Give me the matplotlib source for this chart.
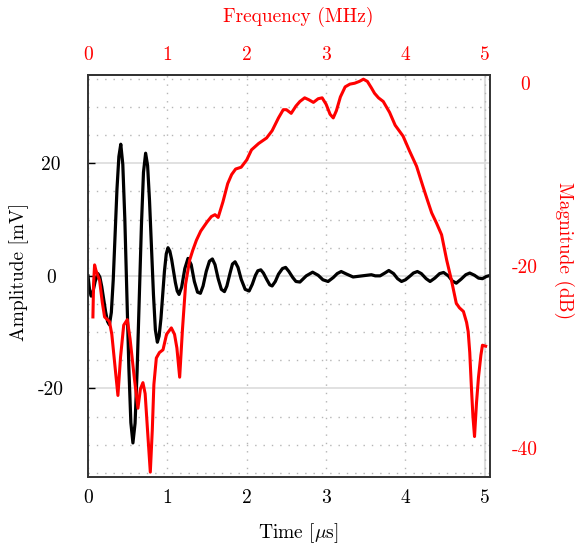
import matplotlib
matplotlib.use("Agg")
import matplotlib.pyplot as plt
from matplotlib.ticker import MultipleLocator

plt.rcParams["font.family"] = ["cmr10", "DejaVu Serif"]
plt.rcParams["mathtext.fontset"] = "cm"
plt.rcParams["axes.formatter.use_mathtext"] = True

# time signal (us, mV)
time_us = [0.00, 0.02, 0.04, 0.06, 0.09, 0.125, 0.149, 0.173, 0.198, 0.222,
           0.246, 0.27, 0.294, 0.318, 0.342, 0.365, 0.389, 0.413, 0.4385, 0.464,
           0.4895, 0.515, 0.540, 0.566, 0.593, 0.619, 0.646, 0.673, 0.699, 0.726,
           0.751, 0.775, 0.80, 0.825, 0.849, 0.874, 0.896, 0.919, 0.941, 0.963,
           0.986, 1.008, 1.031, 1.054, 1.078, 1.101, 1.124, 1.147, 1.18, 1.22,
           1.26, 1.30, 1.34, 1.38, 1.416, 1.45, 1.49, 1.53, 1.567, 1.60,
           1.64, 1.68, 1.719, 1.75, 1.79, 1.82, 1.853, 1.89, 1.93, 1.98,
           2.03, 2.07, 2.11, 2.14, 2.177, 2.21, 2.25, 2.29, 2.32, 2.36,
           2.40, 2.45, 2.49, 2.53, 2.58, 2.62, 2.67, 2.75, 2.83, 2.90,
           2.96, 3.025, 3.09, 3.14, 3.19, 3.26, 3.34, 3.40, 3.47, 3.52,
           3.57, 3.62, 3.68, 3.74, 3.79, 3.85, 3.90, 3.95, 4.00, 4.06,
           4.10, 4.15, 4.20, 4.26, 4.31, 4.37, 4.43, 4.48, 4.54, 4.59,
           4.64, 4.70, 4.76, 4.81, 4.87, 4.92, 4.97, 5.02, 5.06]
amplitude_mv = [0.0, -2.5, -3.6, -3.0, -1.0, 0.4, -0.2, -1.9, -4.15, -6.4,
                -8.1, -8.7, -6.5, -0.7, 7.35, 15.4, 21.2, 23.4, 19.8, 10.1,
                -3.2, -16.4, -26.1, -29.7, -26.2, -16.8, -3.95, 8.9, 18.4, 21.8,
                19.6, 13.4, 5.0, -3.4, -9.6, -11.8, -10.7, -7.6, -3.4, 0.8,
                3.9, 5.0, 4.4, 2.9, 0.85, -1.2, -2.7, -3.3, -2.0, 1.3,
                3.1, 2.0, -1.0, -2.9, -3.1, -1.8, 0.8, 2.6, 3.0, 2.0,
                -0.5, -2.4, -2.8, -1.8, 0.5, 2.1, 2.5, 1.5, -0.6, -2.4,
                -2.7, -1.5, 0.1, 0.9, 1.07, 0.5, -0.6, -1.6, -1.8, -1.0,
                0.3, 1.3, 1.5, 0.8, -0.3, -1.0, -1.1, 0.0, 0.65, 0.1,
                -0.7, -1.0, -0.3, 0.4, 0.77, 0.3, -0.2, -0.1, 0.0, 0.1,
                0.2, 0.0, 0.0, 0.5, 0.95, 0.4, -0.5, -1.0, -0.7, 0.0,
                0.5, 0.77, 0.4, -0.5, -1.0, -0.4, 0.4, 0.6, 0.0, -0.9,
                -1.3, -0.6, 0.2, 0.5, 0.1, -0.4, -0.5, -0.1, 0.05]

# spectrum (MHz, dB)
freq_mhz = [0.062, 0.07, 0.083, 0.10, 0.146, 0.18, 0.209, 0.27, 0.30, 0.34,
            0.377, 0.41, 0.45, 0.495, 0.53, 0.58, 0.629, 0.66, 0.692, 0.72,
            0.75, 0.785, 0.81, 0.83, 0.861, 0.90, 0.945, 0.99, 1.05, 1.09,
            1.12, 1.155, 1.19, 1.23, 1.28, 1.32, 1.366, 1.42, 1.50, 1.555,
            1.60, 1.64, 1.70, 1.76, 1.81, 1.86, 1.93, 2.00, 2.06, 2.15,
            2.25, 2.32, 2.40, 2.46, 2.50, 2.56, 2.62, 2.67, 2.73, 2.78,
            2.84, 2.90, 2.95, 3.00, 3.05, 3.09, 3.13, 3.18, 3.24, 3.30,
            3.36, 3.42, 3.47, 3.52, 3.57, 3.61, 3.66, 3.72, 3.80, 3.87,
            3.97, 4.05, 4.14, 4.22, 4.28, 4.33, 4.39, 4.455, 4.52, 4.58,
            4.64, 4.68, 4.73, 4.77, 4.79, 4.81, 4.83, 4.85, 4.87, 4.895,
            4.92, 4.95, 4.97, 5.01]
magnitude_db = [-25.6, -22.0, -19.9, -20.5, -21.6, -24.0, -25.6, -26.1, -27.5, -31.0,
                -34.2, -30.0, -26.5, -25.9, -28.0, -32.0, -35.6, -33.5, -32.8, -34.0,
                -38.0, -42.6, -38.0, -33.0, -30.1, -29.5, -29.2, -27.5, -26.8, -27.5,
                -29.0, -32.2, -27.0, -22.0, -19.4, -18.3, -17.2, -16.2, -15.2, -14.6,
                -14.4, -14.7, -13.0, -11.0, -10.0, -9.4, -9.2, -8.4, -7.3, -6.6,
                -6.0, -5.2, -3.8, -2.9, -2.9, -3.3, -2.5, -2.0, -1.6, -1.8,
                -2.1, -1.7, -1.6, -2.3, -3.4, -3.8, -3.0, -1.5, -0.4, -0.1,
                0.0, 0.2, 0.44, 0.2, -0.5, -1.1, -1.6, -2.0, -3.2, -4.6,
                -5.8, -7.4, -9.1, -11.3, -12.9, -14.2, -15.3, -16.6, -19.4, -21.6,
                -24.1, -24.6, -25.0, -26.2, -27.2, -29.5, -33.2, -36.5, -38.7, -35.0,
                -32.2, -29.8, -28.7, -28.8]

x_ticks = [0, 1, 2, 3, 4, 5]
amp_ticks = [-20, 0, 20]
db_ticks = [-40, -20, 0]

fig = plt.figure(figsize=(5.78, 5.46), dpi=100)
ax = fig.add_axes([88 / 578, 1 - 476.7 / 546, 402 / 578, 401.7 / 546])

ax.plot(time_us, amplitude_mv, color="black", lw=2.3, zorder=3,
        solid_joinstyle="round")
ax.set_xlim(0, 5.065)
ax.set_ylim(-35.7, 35.7)

# grid: solid light major lines, dotted minor ones
ax.yaxis.set_minor_locator(MultipleLocator(5))
ax.grid(True, axis="y", which="major", color="#dcdcdc", lw=1.2, ls="-")
ax.grid(True, axis="y", which="minor", color="#b5b5b5", lw=1.0, ls=(0, (1, 5)))
ax.grid(True, axis="x", which="major", color="#b5b5b5", lw=1.0, ls=(0, (1, 5)))
ax.axvline(x_ticks[-1], color="#dcdcdc", lw=1.5, zorder=0)

ax.set_xticks(x_ticks, labels=[str(v) for v in x_ticks])
ax.set_yticks(amp_ticks, labels=[str(v) for v in amp_ticks], ha="center")
ax.tick_params(axis="y", which="major", direction="in", length=5, width=1,
               right=True, pad=26.5, labelsize=14)
ax.tick_params(axis="y", which="minor", length=0)
ax.tick_params(axis="x", length=0, pad=9, labelsize=14)
for s in ax.spines.values():
    s.set_color("#333333")
    s.set_linewidth(1.2)

# magnitude spectrum on right axis
ax_r = ax.twinx()
ax_r.plot(freq_mhz, magnitude_db, color="red", lw=2.2, zorder=4,
          solid_joinstyle="round")
ax_r.set_ylim(-43.1, 0.9)
ax_r.set_yticks(db_ticks, labels=[str(v) for v in db_ticks], ha="center",
                color="red")
ax_r.tick_params(axis="y", length=0, pad=25, labelsize=14)
for s in ax_r.spines.values():
    s.set_color("#333333")
    s.set_linewidth(1.2)

ax_top = ax.secondary_xaxis("top")
ax_top.set_xticks(x_ticks, labels=[str(v) for v in x_ticks])
ax_top.tick_params(axis="x", length=0, pad=8, labelsize=14, labelcolor="red")
ax_top.spines["top"].set_color("#333333")
ax_top.spines["top"].set_linewidth(1.2)

fig.text(298 / 578, 1 - 533 / 546, r"Time [$\mu$s]", ha="center", va="center",
         fontsize=14)
fig.text(19 / 578, 1 - 272 / 546, "Amplitude [mV]", ha="center", va="center",
         rotation=90, fontsize=14)
fig.text(298 / 578, 1 - 17 / 546, "Frequency (MHz)", ha="center", va="center",
         fontsize=14, color="red")
fig.text(564 / 578, 1 - 251 / 546, "Magnitude (dB)", ha="center", va="center",
         rotation=270, fontsize=14, color="red")

fig.savefig("out.png", dpi=100)
